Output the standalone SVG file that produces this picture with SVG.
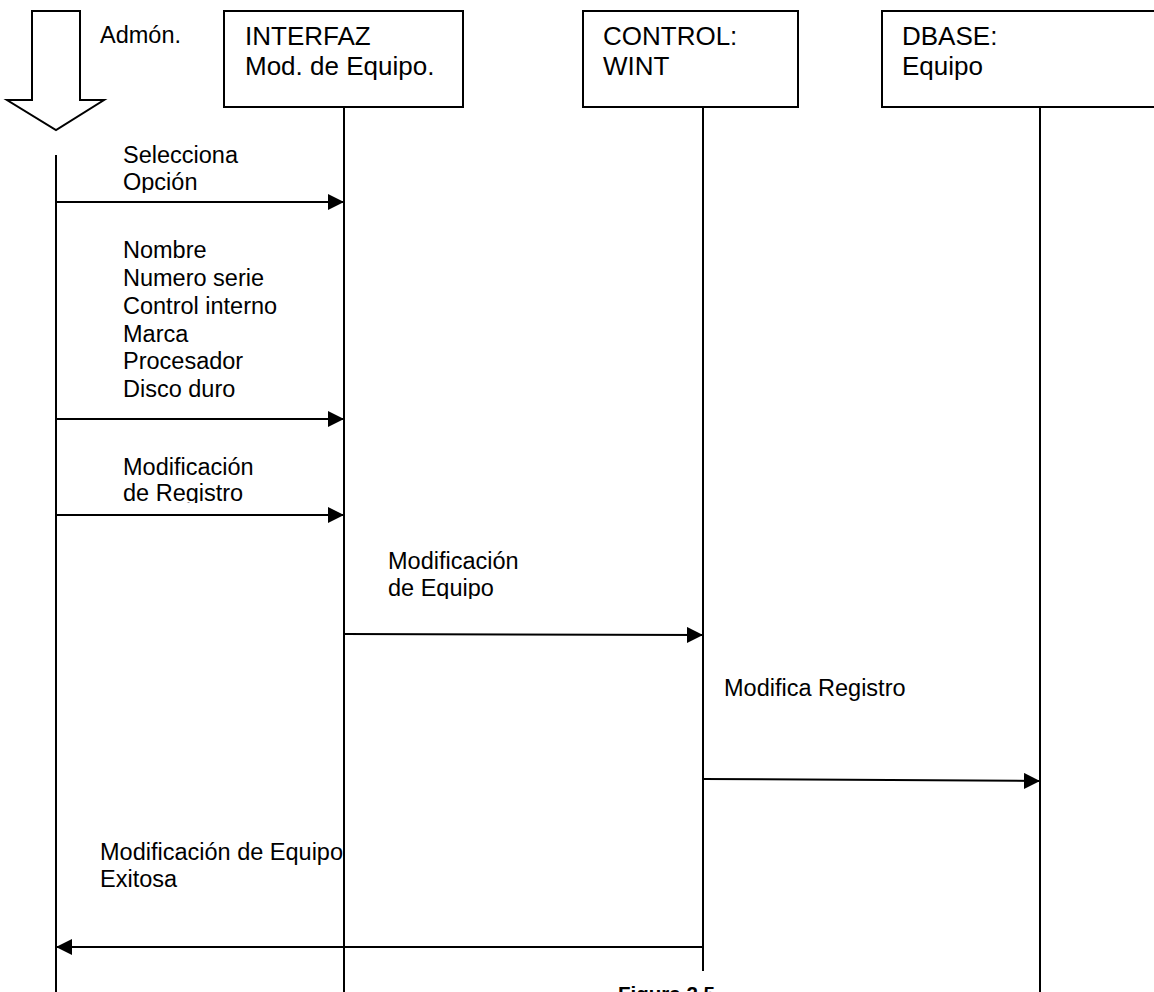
<svg xmlns="http://www.w3.org/2000/svg" width="1154" height="992" viewBox="0 0 1154 992">
<style>
.ln{stroke:#000;stroke-width:2;fill:none}
.box{stroke:#000;stroke-width:2;fill:#fff}
.t{font-family:"Liberation Sans",Arial,sans-serif;font-size:23.5px;fill:#000}
.h{font-family:"Liberation Sans",Arial,sans-serif;font-size:26px;fill:#000}
.cap{font-family:"Liberation Sans",Arial,sans-serif;font-size:20px;font-weight:bold;fill:#000}
</style>
<defs>
<marker id="ah" viewBox="0 0 16 16" refX="16" refY="8" markerWidth="16" markerHeight="16" markerUnits="userSpaceOnUse" orient="auto">
<path d="M0,0 L16,8 L0,16 Z" fill="#000"/>
</marker>
<clipPath id="c1"><rect x="0" y="0" width="400" height="193"/></clipPath>
<clipPath id="c2"><rect x="0" y="0" width="400" height="503"/></clipPath>
<clipPath id="c3"><rect x="0" y="0" width="700" height="599"/></clipPath>
</defs>

<g id="admin">
<path class="ln" d="M32,11 L80,11 L80,100 L104,100 L56,130 L7,100 L32,100 Z" fill="#fff"/>
<text class="t" x="100" y="43">Admón.</text>
<line class="ln" x1="56" y1="155" x2="56" y2="992"/>
</g>

<g id="interfaz">
<rect class="box" x="224" y="11" width="239" height="96"/>
<text class="h" x="245" y="45">INTERFAZ</text>
<text class="h" x="245" y="75">Mod. de Equipo.</text>
<line class="ln" x1="344" y1="107" x2="344" y2="992"/>
</g>

<g id="control">
<rect class="box" x="583" y="11" width="215" height="96"/>
<text class="h" x="603" y="45">CONTROL:</text>
<text class="h" x="603" y="75">WINT</text>
<line class="ln" x1="703" y1="107" x2="703" y2="971"/>
</g>

<g id="dbase">
<rect class="box" x="882" y="11" width="280" height="96"/>
<text class="h" x="902" y="45">DBASE:</text>
<text class="h" x="902" y="75">Equipo</text>
<line class="ln" x1="1040" y1="107" x2="1040" y2="992"/>
</g>

<g id="connectors">
<line class="ln" x1="56" y1="202" x2="344" y2="202" marker-end="url(#ah)"/>
<line class="ln" x1="56" y1="419" x2="344" y2="419" marker-end="url(#ah)"/>
<line class="ln" x1="56" y1="515" x2="344" y2="515" marker-end="url(#ah)"/>
<line class="ln" x1="344" y1="634" x2="703" y2="635" marker-end="url(#ah)"/>
<line class="ln" x1="703" y1="779" x2="1040" y2="781" marker-end="url(#ah)"/>
<line class="ln" x1="703" y1="947" x2="56" y2="947" marker-end="url(#ah)"/>
</g>

<g id="labels">
<g clip-path="url(#c1)">
<text class="t" x="123" y="163">Selecciona</text>
<text class="t" x="123" y="190">Opción</text>
</g>
<text class="t" x="123" y="258">Nombre</text>
<text class="t" x="123" y="286">Numero serie</text>
<text class="t" x="123" y="314">Control interno</text>
<text class="t" x="123" y="342">Marca</text>
<text class="t" x="123" y="369">Procesador</text>
<text class="t" x="123" y="397">Disco duro</text>
<g clip-path="url(#c2)">
<text class="t" x="123" y="475">Modificación</text>
<text class="t" x="123" y="501">de Registro</text>
</g>
<g clip-path="url(#c3)">
<text class="t" x="388" y="569">Modificación</text>
<text class="t" x="388" y="596">de Equipo</text>
</g>
<text class="t" x="724" y="696">Modifica Registro</text>
<text class="t" x="100" y="860">Modificación de Equipo</text>
<text class="t" x="100" y="887">Exitosa</text>
<text class="cap" x="618" y="1001" textLength="97" lengthAdjust="spacingAndGlyphs">Figura 2.5</text>
</g>
</svg>
